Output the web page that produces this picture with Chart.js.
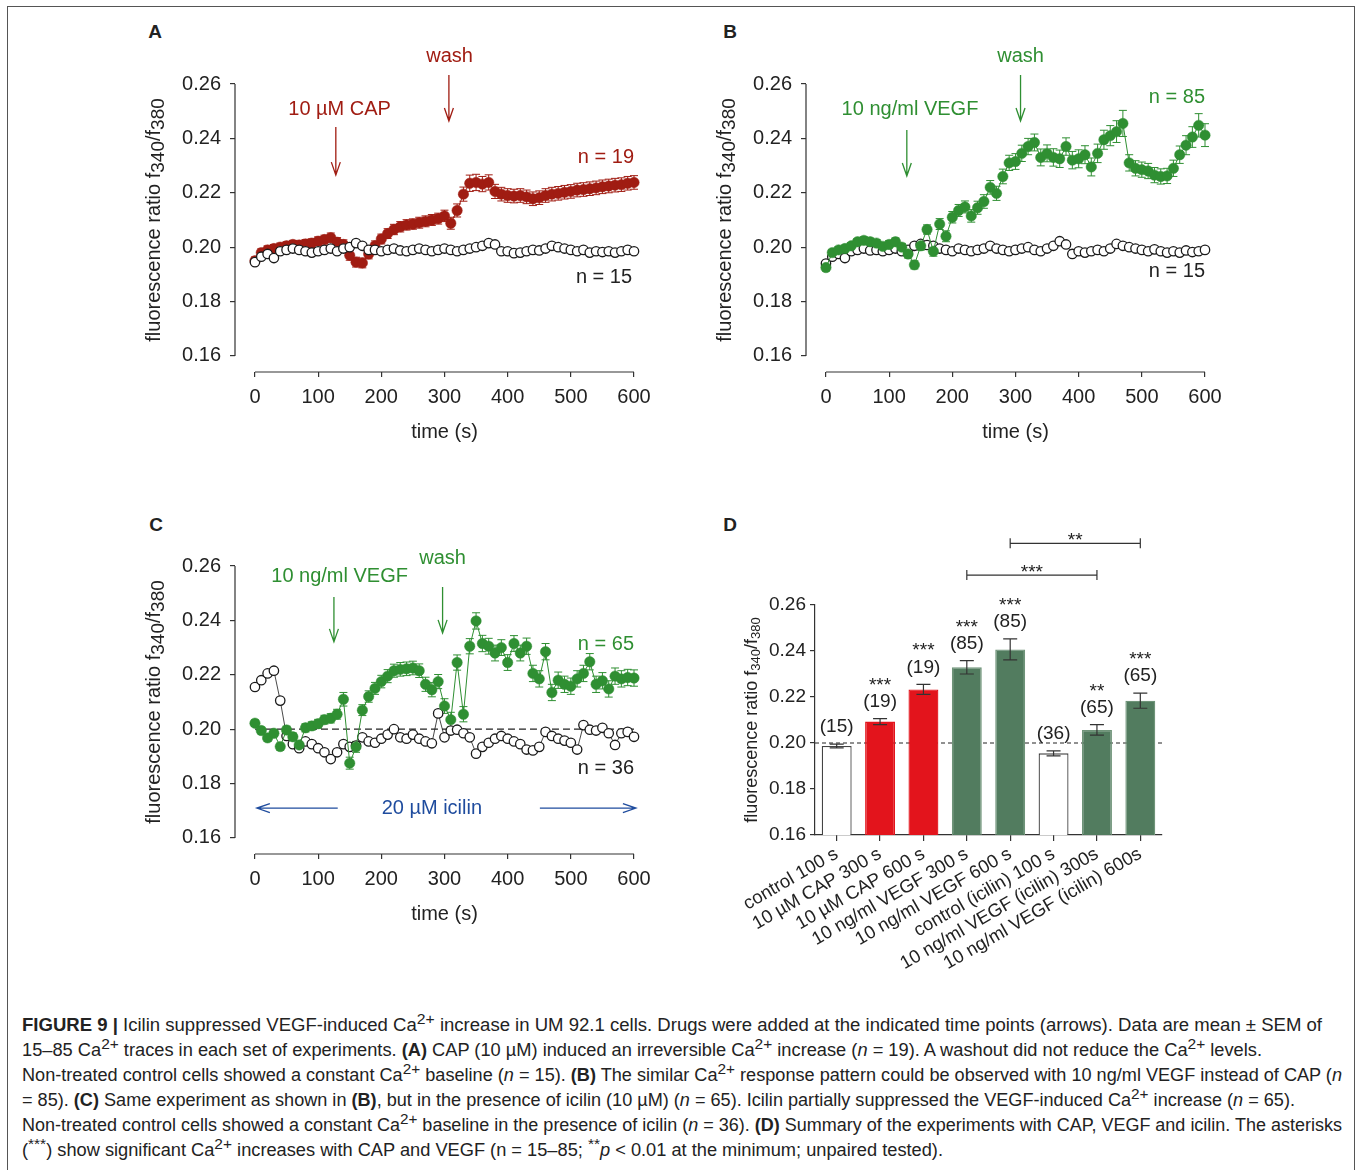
<!DOCTYPE html>
<html>
<head>
<meta charset="utf-8">
<script src="https://cdn.jsdelivr.net/npm/chart.js@4.4.0/dist/chart.umd.min.js"></script>
<style>
body { margin: 0; background: #fff; width: 1357px; height: 1170px; overflow: hidden; position: relative; font-family: "Liberation Sans", Arial, sans-serif; color: #222; }
#frame { position: absolute; left: 7px; top: 6px; width: 1346px; height: 1200px; border: 1.5px solid #555; border-bottom: none; }
canvas { position: absolute; }
.lbl { position: absolute; font-weight: bold; font-size: 19px; transform: translate(-50%, -50%); }
.cap { position: absolute; left: 22px; font-size: 17.5px; line-height: 25px; white-space: nowrap; transform-origin: 0 50%; }
.cap sup { font-size: 0.85em; vertical-align: 0.45em; line-height: 0; }
</style>
</head>
<body>
<div id="frame"></div>
<div class="lbl" style="left:155px;top:32px">A</div>
<div class="lbl" style="left:730px;top:32px">B</div>
<div class="lbl" style="left:156px;top:525px">C</div>
<div class="lbl" style="left:730px;top:525px">D</div>

<canvas id="chartA" width="540" height="440" style="left:130px;top:20px"></canvas>
<canvas id="chartB" width="540" height="440" style="left:701px;top:20px"></canvas>
<canvas id="chartC" width="540" height="440" style="left:130px;top:502px"></canvas>
<canvas id="chartD" width="470" height="500" style="left:720px;top:500px"></canvas>

<div class="cap" data-w="1300" style="top:1013px"><b>FIGURE 9 |</b> Icilin suppressed VEGF-induced Ca<sup>2+</sup> increase in UM 92.1 cells. Drugs were added at the indicated time points (arrows). Data are mean ± SEM of</div>
<div class="cap" data-w="1240" style="top:1038px">15–85 Ca<sup>2+</sup> traces in each set of experiments. <b>(A)</b> CAP (10 µM) induced an irreversible Ca<sup>2+</sup> increase (<i>n</i> = 19). A washout did not reduce the Ca<sup>2+</sup> levels.</div>
<div class="cap" data-w="1320" style="top:1063px">Non-treated control cells showed a constant Ca<sup>2+</sup> baseline (<i>n</i> = 15). <b>(B)</b> The similar Ca<sup>2+</sup> response pattern could be observed with 10 ng/ml VEGF instead of CAP (<i>n</i></div>
<div class="cap" data-w="1273" style="top:1088px">= 85). <b>(C)</b> Same experiment as shown in <b>(B)</b>, but in the presence of icilin (10 µM) (<i>n</i> = 65). Icilin partially suppressed the VEGF-induced Ca<sup>2+</sup> increase (<i>n</i> = 65).</div>
<div class="cap" data-w="1320" style="top:1113px">Non-treated control cells showed a constant Ca<sup>2+</sup> baseline in the presence of icilin (<i>n</i> = 36). <b>(D)</b> Summary of the experiments with CAP, VEGF and icilin. The asterisks</div>
<div class="cap" data-w="921" style="top:1138px">(<sup>***</sup>) show significant Ca<sup>2+</sup> increases with CAP and VEGF (n = 15–85; <sup>**</sup><i>p</i> &lt; 0.01 at the minimum; unpaired tested).</div>

<script>
// shared axes
const times = [0,10,20,30,40,50,60,70,80,90,100,110,120,130,140,150,160,170,180,190,200,210,220,230,240,250,260,270,280,290,300,310,320,330,340,350,360,370,380,390,400,410,420,430,440,450,460,470,480,490,500,510,520,530,540,550,560,570,580,590,600];
const timeTicks = [0, 100, 200, 300, 400, 500, 600];
const ratioTicks = [0.16, 0.18, 0.20, 0.22, 0.24, 0.26];

// panel A: 10 uM CAP (n = 19) and control (n = 15)
const capA = [
  0.195,0.198,0.199,0.1995,0.200,0.2005,0.201,0.2008,0.2012,0.2015,
  0.2022,0.2028,0.2035,0.2018,0.201,0.197,0.1945,0.1942,0.1975,0.2005,
  0.203,0.205,0.2065,0.2075,0.2082,0.2085,0.209,0.2095,0.210,0.2105,
  0.2115,0.2088,0.2135,0.2195,0.2235,0.2238,0.2232,0.2238,0.2205,0.2195,
  0.219,0.2188,0.219,0.2185,0.2178,0.2182,0.219,0.2195,0.2198,0.2202,
  0.2205,0.221,0.2212,0.2215,0.2218,0.2222,0.2225,0.2228,0.223,0.2235,
  0.2238];
const capAErr = [
  0.0014,0.0014,0.0015,0.0015,0.0015,0.0015,0.0015,0.0015,0.0016,0.0016,
  0.0016,0.0016,0.0017,0.0017,0.0017,0.0018,0.0018,0.0018,0.0018,0.0018,
  0.0018,0.0018,0.0019,0.0019,0.0019,0.0019,0.0020,0.0020,0.0020,0.0020,
  0.0021,0.0022,0.0024,0.0026,0.0030,0.0030,0.0028,0.0028,0.0026,0.0025,
  0.0025,0.0025,0.0025,0.0025,0.0025,0.0025,0.0025,0.0025,0.0025,0.0025,
  0.0025,0.0025,0.0025,0.0025,0.0025,0.0025,0.0025,0.0025,0.0025,0.0025,
  0.0025];
const ctrlA = [
  0.1945,0.1965,0.1975,0.196,0.1985,0.199,0.1995,0.199,0.1985,0.198,
  0.1985,0.199,0.1995,0.1985,0.1995,0.200,0.2015,0.2005,0.199,0.199,
  0.1985,0.199,0.1995,0.1988,0.1985,0.199,0.1995,0.199,0.1985,0.199,
  0.1995,0.199,0.1985,0.199,0.1995,0.200,0.2005,0.2015,0.201,0.1985,
  0.1985,0.1978,0.198,0.1985,0.199,0.1988,0.1995,0.2005,0.200,0.1995,
  0.199,0.1985,0.199,0.198,0.1985,0.1982,0.1985,0.198,0.1985,0.199,
  0.1985];

// panel B: 10 ng/ml VEGF (n = 85) and control (n = 15)
const vegfB = [
  0.1925,0.198,0.199,0.1995,0.2005,0.202,0.2025,0.202,0.2015,0.2003,
  0.201,0.202,0.200,0.1975,0.1935,0.2005,0.2065,0.1985,0.2085,0.204,
  0.211,0.2135,0.2148,0.2115,0.2145,0.2168,0.222,0.2198,0.226,0.231,
  0.2315,0.2345,0.237,0.2385,0.233,0.2345,0.233,0.2325,0.237,0.232,
  0.2325,0.234,0.2295,0.2345,0.2395,0.241,0.2425,0.2455,0.231,0.229,
  0.2285,0.228,0.2265,0.226,0.2262,0.229,0.234,0.2375,0.2405,0.2448,
  0.2412];
const vegfBErr = [
  0.0012,0.0012,0.0012,0.0012,0.0012,0.0012,0.0013,0.0013,0.0013,0.0013,
  0.0014,0.0014,0.0014,0.0015,0.0015,0.0016,0.0017,0.0018,0.0020,0.0020,
  0.0021,0.0022,0.0022,0.0023,0.0024,0.0025,0.0025,0.0026,0.0027,0.0028,
  0.0029,0.0030,0.0030,0.0031,0.0031,0.0031,0.0032,0.0032,0.0032,0.0032,
  0.0033,0.0033,0.0033,0.0034,0.0035,0.0037,0.0040,0.0048,0.0030,0.0028,
  0.0028,0.0028,0.0028,0.0028,0.0028,0.0030,0.0032,0.0035,0.0038,0.0043,
  0.0042];
const ctrlB = [
  0.194,0.1965,0.1975,0.196,0.1985,0.199,0.1995,0.1988,0.199,0.1985,
  0.199,0.1995,0.1985,0.199,0.2005,0.2012,0.2008,0.2005,0.1995,0.199,
  0.1985,0.1995,0.199,0.1985,0.199,0.1995,0.2005,0.1995,0.199,0.1985,
  0.199,0.1995,0.200,0.199,0.1985,0.1995,0.2005,0.2022,0.201,0.1975,
  0.1985,0.198,0.1985,0.199,0.1985,0.1995,0.2012,0.2005,0.200,0.1995,
  0.199,0.1985,0.1992,0.1985,0.198,0.1985,0.198,0.1988,0.1982,0.1985,
  0.199];

// panel C: VEGF with 20 uM icilin (n = 65) and icilin control (n = 36)
const vegfC = [
  0.2022,0.1995,0.1968,0.1985,0.1936,0.1997,0.1972,0.1942,0.2005,0.2012,
  0.202,0.2035,0.204,0.2055,0.211,0.1875,0.1935,0.207,0.212,0.215,
  0.2175,0.2195,0.2215,0.222,0.2222,0.2225,0.2215,0.2165,0.2145,0.2175,
  0.2085,0.2035,0.2245,0.2055,0.2305,0.2398,0.2315,0.2305,0.228,0.23,
  0.2245,0.2315,0.228,0.2305,0.2205,0.2185,0.2285,0.2135,0.218,0.2165,
  0.2158,0.2185,0.2205,0.2248,0.2165,0.2178,0.2148,0.2195,0.2185,0.219,
  0.2188];
const vegfCErr = [
  0.0012,0.0012,0.0013,0.0013,0.0013,0.0014,0.0014,0.0014,0.0015,0.0015,
  0.0016,0.0016,0.0017,0.0018,0.0025,0.0022,0.0020,0.0020,0.0021,0.0022,
  0.0023,0.0024,0.0024,0.0025,0.0025,0.0025,0.0025,0.0026,0.0026,0.0026,
  0.0027,0.0027,0.0028,0.0028,0.0028,0.0030,0.0030,0.0029,0.0029,0.0029,
  0.0029,0.0029,0.0029,0.0030,0.0030,0.0030,0.0030,0.0030,0.0030,0.0030,
  0.0030,0.0030,0.0030,0.0030,0.0030,0.0030,0.0030,0.0030,0.0030,0.0030,
  0.0030];
const ctrlC = [
  0.2155,0.218,0.2205,0.2215,0.2105,0.1975,0.1945,0.193,0.1955,0.1945,
  0.193,0.1915,0.189,0.1915,0.1945,0.1935,0.194,0.197,0.1955,0.195,
  0.1965,0.198,0.200,0.197,0.1965,0.198,0.1965,0.1955,0.1948,0.2058,
  0.197,0.1995,0.1998,0.1985,0.197,0.191,0.1935,0.195,0.1965,0.1975,
  0.1965,0.1955,0.1945,0.1925,0.1922,0.1935,0.199,0.1975,0.1965,0.1958,
  0.195,0.1925,0.2015,0.1998,0.1995,0.2005,0.1985,0.1942,0.1985,0.199,
  0.1972];
const baselineC = [0.20, 0.20];
const baselineT = [0, 600];

// panel D: summary bars
const barLabels = ['control 100 s', '10 µM CAP 300 s', '10 µM CAP 600 s', '10 ng/ml VEGF 300 s', '10 ng/ml VEGF 600 s', 'control (icilin) 100 s', '10 ng/ml VEGF (icilin) 300s', '10 ng/ml VEGF (icilin) 600s'];
const barValues = [0.1987, 0.2093, 0.2233, 0.2329, 0.2407, 0.1955, 0.2057, 0.2184];
const barErr = [0.0008, 0.0013, 0.0022, 0.0029, 0.0046, 0.0011, 0.0023, 0.0033];
const barN = ['(15)', '(19)', '(19)', '(85)', '(85)', '(36)', '(65)', '(65)'];
const barStars = ['', '***', '***', '***', '***', '', '**', '***'];
const brackets = [
  { from: 3, to: 6, level: 0.2730, label: '***' },
  { from: 4, to: 7, level: 0.2868, label: '**' }
];

const FONT = '"Liberation Sans", Arial, sans-serif';
const ink = '#222';
const axisInk = '#333';
const capRed = '#a01c12';
const vegfGreen = '#2f8f32';
const icilinBlue = '#1f4c9e';
const barFill = ['#ffffff', '#e3141c', '#e3141c', '#527c5f', '#527c5f', '#ffffff', '#527c5f', '#527c5f'];
const barEdge = ['#444', '#e3141c', '#e3141c', '#6f9479', '#6f9479', '#444', '#6f9479', '#6f9479'];

Chart.defaults.font.family = FONT;
Chart.defaults.color = ink;
Chart.defaults.animation = false;

function toPts(vals) {
  return times.map((t, i) => ({ x: t, y: vals[i] }));
}

function filledSeries(vals, errs, color) {
  return {
    data: toPts(vals), errors: errs, borderColor: color, borderWidth: 1,
    pointRadius: 5.2, pointBackgroundColor: color, pointBorderColor: color, pointBorderWidth: 0.5,
    clip: false
  };
}

function openSeries(vals) {
  return {
    data: toPts(vals), borderColor: '#1a1a1a', borderWidth: 0.8,
    pointRadius: 4.7, pointBackgroundColor: '#fff', pointBorderColor: '#1a1a1a', pointBorderWidth: 1.3,
    clip: false
  };
}

function drawRatioTitle(ctx, cx, cy, size, subSize, subDrop) {
  const parts = [['fluorescence ratio f', size, 0], ['340', subSize, subDrop], ['/f', size, 0], ['380', subSize, subDrop]];
  ctx.save();
  let total = 0;
  parts.forEach(p => { ctx.font = p[1] + 'px ' + FONT; total += ctx.measureText(p[0]).width; });
  ctx.translate(cx, cy);
  ctx.rotate(-Math.PI / 2);
  ctx.fillStyle = ink;
  ctx.textBaseline = 'middle';
  ctx.textAlign = 'left';
  let x = -total / 2;
  parts.forEach(p => {
    ctx.font = p[1] + 'px ' + FONT;
    ctx.fillText(p[0], x, p[2]);
    x += ctx.measureText(p[0]).width;
  });
  ctx.restore();
}

function drawErrors(ctx, xs, ys, ds, cap) {
  if (!ds.errors) return;
  ctx.save();
  ctx.strokeStyle = ds.borderColor;
  ctx.lineWidth = 1;
  ds.data.forEach((p, i) => {
    const px = xs.getPixelForValue(p.x);
    const top = ys.getPixelForValue(p.y + ds.errors[i]);
    const bot = ys.getPixelForValue(p.y - ds.errors[i]);
    ctx.beginPath();
    ctx.moveTo(px, top); ctx.lineTo(px, bot);
    ctx.moveTo(px - cap, top); ctx.lineTo(px + cap, top);
    ctx.moveTo(px - cap, bot); ctx.lineTo(px + cap, bot);
    ctx.stroke();
  });
  ctx.restore();
}

// notes are in data units: texts, down arrows, sideways arrows
function tracePlugin(notes) {
  return {
    id: 'trace',
    beforeDatasetsDraw(chart) {
      const { ctx, scales: { x, y } } = chart;
      chart.data.datasets.forEach(ds => drawErrors(ctx, x, y, ds, 4));
    },
    afterDraw(chart) {
      const { ctx, chartArea, scales: { x, y } } = chart;
      ctx.save();
      ctx.strokeStyle = axisInk;
      ctx.lineWidth = 1.2;
      ctx.beginPath();
      ctx.moveTo(chartArea.left, y.getPixelForValue(0.16));
      ctx.lineTo(chartArea.left, y.getPixelForValue(0.26));
      ctx.moveTo(x.getPixelForValue(0), chartArea.bottom);
      ctx.lineTo(x.getPixelForValue(600), chartArea.bottom);
      ctx.stroke();

      drawRatioTitle(ctx, chartArea.left - 81, (y.getPixelForValue(0.16) + y.getPixelForValue(0.26)) / 2, 20, 19, 5);

      ctx.fillStyle = ink;
      ctx.font = '20px ' + FONT;
      ctx.textAlign = 'center';
      ctx.textBaseline = 'middle';
      ctx.fillText('time (s)', x.getPixelForValue(300), chartArea.bottom + 60);

      notes.forEach(n => {
        ctx.fillStyle = n.color;
        ctx.strokeStyle = n.color;
        ctx.lineWidth = 1.3;
        if (n.text) {
          ctx.font = '20px ' + FONT;
          ctx.textAlign = n.align || 'center';
          ctx.fillText(n.text, x.getPixelForValue(n.t), y.getPixelForValue(n.v));
        } else if (n.down) {
          const px = x.getPixelForValue(n.t), y1 = y.getPixelForValue(n.down[0]), y2 = y.getPixelForValue(n.down[1]);
          ctx.beginPath();
          ctx.moveTo(px, y1); ctx.lineTo(px, y2);
          ctx.moveTo(px - 4.5, y2 - 13); ctx.lineTo(px, y2); ctx.lineTo(px + 4.5, y2 - 13);
          ctx.stroke();
        } else if (n.side) {
          const py = y.getPixelForValue(n.v), x1 = x.getPixelForValue(n.side[0]), x2 = x.getPixelForValue(n.side[1]);
          const dir = x2 > x1 ? 1 : -1;
          ctx.beginPath();
          ctx.moveTo(x1, py); ctx.lineTo(x2, py);
          ctx.moveTo(x2 - dir * 13, py - 4.5); ctx.lineTo(x2, py); ctx.lineTo(x2 - dir * 13, py + 4.5);
          ctx.stroke();
        }
      });
      ctx.restore();
    }
  };
}

function traceChart(id, datasets, notes) {
  return new Chart(document.getElementById(id), {
    type: 'line',
    data: { datasets: datasets },
    options: {
      responsive: false,
      devicePixelRatio: 1,
      layout: { padding: { top: 64, right: 36, left: 0, bottom: 0 } },
      plugins: { legend: { display: false }, tooltip: { enabled: false } },
      scales: {
        x: {
          type: 'linear', min: -31.6, max: 600,
          afterBuildTicks: s => { s.ticks = timeTicks.map(v => ({ value: v })); },
          afterFit: s => { s.height = 88; },
          grid: { drawOnChartArea: false, tickLength: 5, color: axisInk, lineWidth: 1.2 },
          border: { display: false },
          ticks: { font: { size: 20 }, color: ink, padding: 8, maxRotation: 0 }
        },
        y: {
          min: 0.1541, max: 0.26,
          afterBuildTicks: s => { s.ticks = ratioTicks.map(v => ({ value: v })); },
          afterFit: s => { s.width = 105; },
          grid: { drawOnChartArea: false, tickLength: 5, color: axisInk, lineWidth: 1.2 },
          border: { display: false },
          ticks: { font: { size: 20 }, color: ink, padding: 9, callback: v => v.toFixed(2) }
        }
      }
    },
    plugins: [tracePlugin(notes)]
  });
}

traceChart('chartA', [openSeries(ctrlA), filledSeries(capA, capAErr, capRed)], [
  { text: '10 µM CAP', t: 134, v: 0.2508, color: capRed },
  { down: [0.2442, 0.2265], t: 128, color: capRed },
  { text: 'wash', t: 308, v: 0.2703, color: capRed },
  { down: [0.2633, 0.2464], t: 307, color: capRed },
  { text: 'n = 19', t: 600, v: 0.2328, color: capRed, align: 'right' },
  { text: 'n = 15', t: 597, v: 0.1887, color: ink, align: 'right' }
]);

traceChart('chartB', [filledSeries(vegfB, vegfBErr, vegfGreen), openSeries(ctrlB)], [
  { text: '10 ng/ml VEGF', t: 133, v: 0.2508, color: vegfGreen },
  { down: [0.2431, 0.2262], t: 128, color: vegfGreen },
  { text: 'wash', t: 308, v: 0.2703, color: vegfGreen },
  { down: [0.2633, 0.2464], t: 308, color: vegfGreen },
  { text: 'n = 85', t: 600, v: 0.2549, color: vegfGreen, align: 'right' },
  { text: 'n = 15', t: 600, v: 0.1909, color: ink, align: 'right' }
]);

const dashC = {
  data: baselineT.map((t, i) => ({ x: t, y: baselineC[i] })),
  borderColor: '#222', borderWidth: 1.2, borderDash: [7, 4], pointRadius: 0, clip: false
};
traceChart('chartC', [filledSeries(vegfC, vegfCErr, vegfGreen), openSeries(ctrlC), dashC], [
  { text: '10 ng/ml VEGF', t: 134, v: 0.2563, color: vegfGreen },
  { down: [0.2486, 0.2321], t: 125, color: vegfGreen },
  { text: 'wash', t: 297, v: 0.2629, color: vegfGreen },
  { down: [0.2523, 0.2354], t: 297, color: vegfGreen },
  { text: 'n = 65', t: 600, v: 0.2310, color: vegfGreen, align: 'right' },
  { text: 'n = 36', t: 600, v: 0.1854, color: ink, align: 'right' },
  { text: '20 µM icilin', t: 280, v: 0.1707, color: icilinBlue },
  { side: [131, 3], v: 0.171, color: icilinBlue },
  { side: [451, 603], v: 0.171, color: icilinBlue }
]);

const summaryPlugin = {
  id: 'summary',
  beforeDatasetsDraw(chart) {
    const { ctx, chartArea, scales: { y } } = chart;
    const py = y.getPixelForValue(0.20);
    ctx.save();
    ctx.strokeStyle = '#222';
    ctx.lineWidth = 1;
    ctx.setLineDash([4, 3]);
    ctx.beginPath();
    ctx.moveTo(chartArea.left, py); ctx.lineTo(chartArea.right, py);
    ctx.stroke();
    ctx.restore();
  },
  afterDatasetsDraw(chart) {
    const { ctx, chartArea, scales: { x, y } } = chart;
    ctx.save();
    ctx.strokeStyle = '#333';
    ctx.lineWidth = 1.2;
    barValues.forEach((v, i) => {
      const px = x.getPixelForValue(i);
      const top = y.getPixelForValue(v + barErr[i]);
      const bot = y.getPixelForValue(v - barErr[i]);
      ctx.beginPath();
      ctx.moveTo(px, top); ctx.lineTo(px, bot);
      ctx.moveTo(px - 7, top); ctx.lineTo(px + 7, top);
      ctx.moveTo(px - 7, bot); ctx.lineTo(px + 7, bot);
      ctx.stroke();
      ctx.fillStyle = ink;
      ctx.textAlign = 'center';
      ctx.textBaseline = 'middle';
      ctx.font = '19px ' + FONT;
      ctx.fillText(barN[i], px, top - 17);
      if (barStars[i]) {
        ctx.textBaseline = 'alphabetic';
        ctx.font = '19px ' + FONT;
        ctx.fillText(barStars[i], px, top - 39 + 11);
      }
    });
    brackets.forEach(b => {
      const x1 = x.getPixelForValue(b.from), x2 = x.getPixelForValue(b.to), py = y.getPixelForValue(b.level);
      ctx.beginPath();
      ctx.moveTo(x1, py); ctx.lineTo(x2, py);
      ctx.moveTo(x1, py - 5); ctx.lineTo(x1, py + 5);
      ctx.moveTo(x2, py - 5); ctx.lineTo(x2, py + 5);
      ctx.stroke();
      ctx.textAlign = 'center';
      ctx.textBaseline = 'alphabetic';
      ctx.font = '19px ' + FONT;
      ctx.fillText(b.label, (x1 + x2) / 2, py - 8 + 11);
    });
    ctx.restore();
    drawRatioTitle(ctx, chartArea.left - 63, (chartArea.top + chartArea.bottom) / 2, 18, 13, 4);
  }
};

new Chart(document.getElementById('chartD'), {
  type: 'bar',
  data: {
    labels: barLabels,
    datasets: [{
      data: barValues, backgroundColor: barFill, borderColor: barEdge, borderWidth: 1.3,
      barPercentage: 0.69, categoryPercentage: 1
    }]
  },
  options: {
    responsive: false,
    devicePixelRatio: 1,
    layout: { padding: { top: 105, right: 28, left: 0, bottom: 0 } },
    plugins: { legend: { display: false }, tooltip: { enabled: false } },
    scales: {
      x: {
        afterFit: s => { s.height = 165; },
        grid: { drawOnChartArea: false, offset: false, tickLength: 6, color: axisInk, lineWidth: 1.2 },
        border: { color: axisInk, width: 1.2 },
        ticks: { font: { size: 18.5 }, color: ink, minRotation: 30, maxRotation: 30, autoSkip: false, padding: 2 }
      },
      y: {
        min: 0.16, max: 0.26,
        afterBuildTicks: s => { s.ticks = ratioTicks.map(v => ({ value: v })); },
        afterFit: s => { s.width = 95; },
        grid: { drawOnChartArea: false, tickLength: 5, color: axisInk, lineWidth: 1.2 },
        border: { color: axisInk, width: 1.2 },
        ticks: { font: { size: 19 }, color: ink, padding: 4, callback: v => v.toFixed(2) }
      }
    }
  },
  plugins: [summaryPlugin]
});

// squeeze caption lines to the widths of the printed caption
document.querySelectorAll('.cap').forEach(el => {
  const w = el.getBoundingClientRect().width;
  el.style.transform = 'scaleX(' + (Number(el.dataset.w) / w) + ')';
});
</script>
</body>
</html>
